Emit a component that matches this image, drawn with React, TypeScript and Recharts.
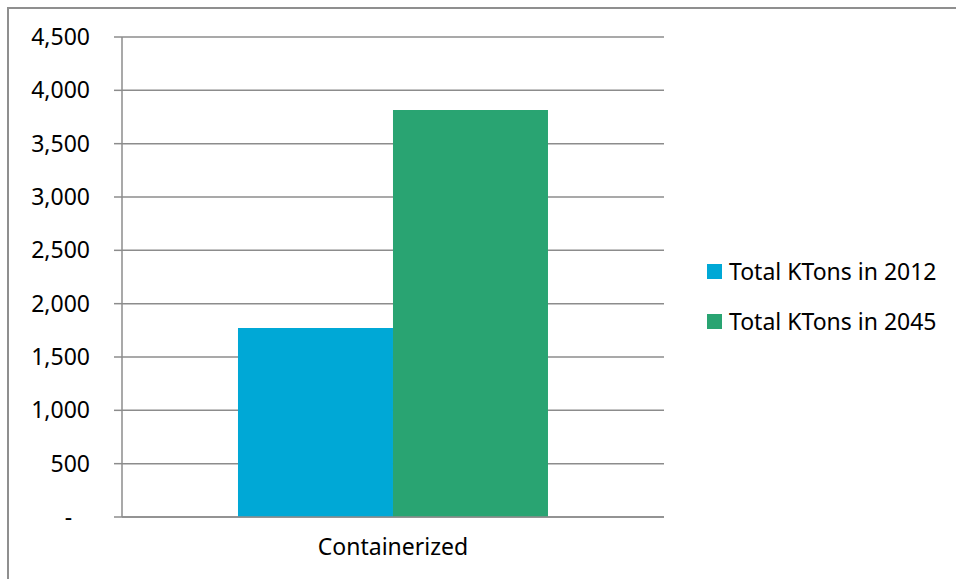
import React from 'react';
import { BarChart, Bar, XAxis, YAxis, CartesianGrid, Legend } from 'recharts';

const categories = ['Containerized'];
const series2012 = [1772];
const series2045 = [3815];
const seriesNames = ['Total KTons in 2012', 'Total KTons in 2045'];
const seriesColors = ['#00a8d6', '#29a472'];
const yTicks = [0, 500, 1000, 1500, 2000, 2500, 3000, 3500, 4000, 4500];
const edgeTicks = [0, 1];

const data = categories.map((name, i) => ({
  name,
  y2012: series2012[i],
  y2045: series2045[i],
}));

const FONT = "'Noto Sans', sans-serif";
const FS = 23;
const GRID = '#8c8c8c';

const formatY = (v: number) => (v === 0 ? '-\u00a0\u00a0\u00a0' : v.toLocaleString('en-US'));

const LegendContent = () => (
  <div style={{ fontFamily: FONT, fontSize: FS, color: '#000' }}>
    {seriesNames.map((n, i) => (
      <div key={n} style={{ display: 'flex', alignItems: 'center', height: 50 }}>
        <span style={{ width: 15, height: 15, background: seriesColors[i], marginRight: 7, display: 'inline-block' }} />
        <span>{n}</span>
      </div>
    ))}
  </div>
);

export default function App() {
  return (
    <div style={{ position: 'absolute', left: 0, top: 0, width: 956, height: 579, overflow: 'hidden', background: '#fff' }}>
      <div style={{ position: 'absolute', left: 7, top: 7, width: 1100, height: 1100, border: '2px solid #8f8f8f' }} />
      <div style={{ position: 'absolute', left: 0, top: 0 }}>
        <BarChart
          width={956}
          height={579}
          data={data}
          margin={{ top: 37, right: 42, left: 0, bottom: 22 }}
          barCategoryGap="21.4%"
          barGap={0}
        >
          <CartesianGrid vertical={false} stroke={GRID} strokeWidth={1.5} xAxisId="cat" />
          <XAxis
            xAxisId="edges"
            type="number"
            domain={[0, 1]}
            ticks={edgeTicks}
            allowDataOverflow
            tick={false}
            tickSize={7}
            axisLine={false}
            tickLine={{ stroke: GRID, strokeWidth: 1.5 }}
            height={0}
          />
          <XAxis
            xAxisId="cat"
            dataKey="name"
            tickLine={false}
            axisLine={{ stroke: GRID, strokeWidth: 1.5 }}
            tickSize={6}
            tickMargin={16}
            height={40}
            tick={{ fill: '#000', fontSize: FS, fontFamily: FONT }}
          />
          <YAxis
            width={122}
            domain={[0, 4500]}
            ticks={yTicks}
            tickFormatter={formatY}
            tickSize={8}
            tickMargin={24}
            axisLine={{ stroke: GRID, strokeWidth: 1.5 }}
            tickLine={{ stroke: GRID, strokeWidth: 1.5 }}
            tick={{ fill: '#000', fontSize: FS, fontFamily: FONT }}
          />
          <Legend
            layout="vertical"
            align="right"
            verticalAlign="middle"
            width={250}
            wrapperStyle={{ left: 707, top: 246, right: 'auto' }}
            content={<LegendContent />}
          />
          <Bar xAxisId="cat" dataKey="y2012" name={seriesNames[0]} fill={seriesColors[0]} isAnimationActive={false} />
          <Bar xAxisId="cat" dataKey="y2045" name={seriesNames[1]} fill={seriesColors[1]} isAnimationActive={false} />
        </BarChart>
      </div>
    </div>
  );
}
